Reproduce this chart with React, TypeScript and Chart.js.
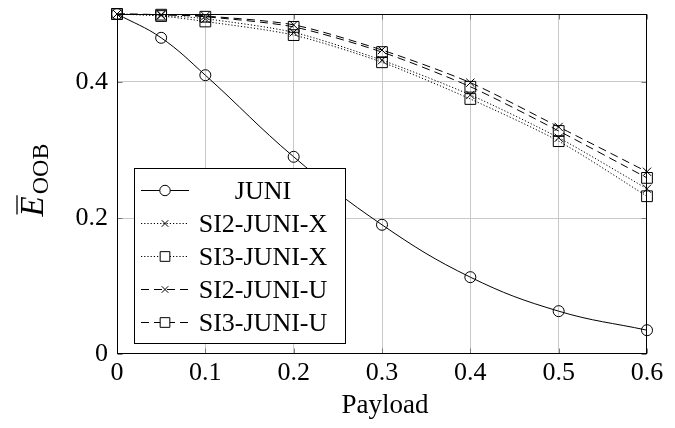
import React, { useEffect, useRef } from 'react';
import { Chart, registerables } from 'chart.js';

Chart.register(...registerables);

// ---------- data ----------
const payload = [0, 0.05, 0.1, 0.2, 0.3, 0.4, 0.5, 0.6];
const juni = [0.5, 0.465, 0.41, 0.29, 0.19, 0.113, 0.063, 0.035];
const si2JuniX = [0.5, 0.498, 0.493, 0.473, 0.432, 0.381, 0.318, 0.243];
const si3JuniX = [0.5, 0.497, 0.489, 0.469, 0.429, 0.375, 0.313, 0.232];
const si2JuniU = [0.5, 0.499, 0.497, 0.484, 0.447, 0.399, 0.334, 0.268];
const si3JuniU = [0.5, 0.499, 0.496, 0.481, 0.444, 0.393, 0.328, 0.259];

const seriesNames = ['JUNI', 'SI2-JUNI-X', 'SI3-JUNI-X', 'SI2-JUNI-U', 'SI3-JUNI-U'];
const xTickValues = [0, 0.1, 0.2, 0.3, 0.4, 0.5, 0.6];
const xTickLabels = ['0', '0.1', '0.2', '0.3', '0.4', '0.5', '0.6'];
const yTickValues = [0, 0.2, 0.4];
const yTickLabels = ['0', '0.2', '0.4'];
const xTitle = 'Payload';
const yTitleMain = 'E';
const yTitleSub = 'OOB';

const FONT = '"Liberation Serif", "Times New Roman", serif';

type Style = { point: string; radius: number; dash: number[] };
const styles: Style[] = [
  { point: 'circle', radius: 5.5, dash: [] },
  { point: 'crossRot', radius: 5.8, dash: [1.2, 2] },
  { point: 'rect', radius: 7.6, dash: [1.2, 2] },
  { point: 'crossRot', radius: 5.8, dash: [8, 5] },
  { point: 'rect', radius: 7.6, dash: [8, 5] },
];
const seriesValues = [juni, si2JuniX, si3JuniX, si2JuniU, si3JuniU];

function drawMarker(ctx: CanvasRenderingContext2D, kind: string, x: number, y: number, r: number) {
  ctx.beginPath();
  if (kind === 'circle') {
    ctx.arc(x, y, r, 0, Math.PI * 2);
  } else if (kind === 'rect') {
    const s = r * Math.SQRT1_2;
    ctx.rect(x - s, y - s, 2 * s, 2 * s);
  } else {
    const s = r * Math.SQRT1_2;
    ctx.moveTo(x - s, y - s);
    ctx.lineTo(x + s, y + s);
    ctx.moveTo(x - s, y + s);
    ctx.lineTo(x + s, y - s);
  }
  ctx.stroke();
}

const overlay = {
  id: 'overlay',
  afterDatasetsDraw(chart: any) {
    const { ctx, chartArea: a, scales } = chart;
    ctx.save();
    const L = Math.round(a.left) + 0.5;
    const R = Math.round(a.right) - 0.5;
    const T = Math.round(a.top) + 0.5;
    const B = Math.round(a.bottom) - 0.5;

    // tick marks (inward, both sides)
    ctx.strokeStyle = '#7a7a7a';
    ctx.lineWidth = 1;
    ctx.setLineDash([]);
    for (const v of xTickValues) {
      const px = Math.round(scales.x.getPixelForValue(v)) + 0.5;
      ctx.beginPath();
      ctx.moveTo(px, B); ctx.lineTo(px, B - 5);
      ctx.moveTo(px, T); ctx.lineTo(px, T + 5);
      ctx.stroke();
    }
    for (const v of yTickValues) {
      const py = Math.round(scales.y.getPixelForValue(v)) + 0.5;
      ctx.beginPath();
      ctx.moveTo(L, py); ctx.lineTo(L + 5, py);
      ctx.moveTo(R, py); ctx.lineTo(R - 5, py);
      ctx.stroke();
    }

    // frame
    ctx.strokeStyle = '#000';
    ctx.strokeRect(L, T, R - L, B - T);

    // legend
    const lx = 134.5, ly = 168.5, lw = 211, lh = 175;
    ctx.fillStyle = '#fff';
    ctx.fillRect(lx, ly, lw, lh);
    ctx.strokeStyle = '#000';
    ctx.lineWidth = 1;
    ctx.strokeRect(lx, ly, lw, lh);
    ctx.font = `26px ${FONT}`;
    ctx.textAlign = 'center';
    ctx.textBaseline = 'alphabetic';
    ctx.fillStyle = '#000';
    seriesNames.forEach((name, i) => {
      const cy = 190 + i * 33;
      const st = styles[i];
      ctx.setLineDash(st.dash);
      ctx.beginPath();
      ctx.moveTo(141, cy + 0.5);
      ctx.lineTo(189, cy + 0.5);
      ctx.stroke();
      ctx.setLineDash([]);
      ctx.save();
      ctx.fillStyle = '#fff';
      if (st.point !== 'crossRot') {
        ctx.beginPath();
        if (st.point === 'circle') ctx.arc(165, cy + 0.5, st.radius * 0.95, 0, Math.PI * 2);
        else {
          const s = st.radius * 0.9 * Math.SQRT1_2;
          ctx.rect(165 - s, cy + 0.5 - s, 2 * s, 2 * s);
        }
        ctx.fill();
      }
      ctx.restore();
      drawMarker(ctx, st.point, 165, cy + 0.5, st.point === 'circle' ? st.radius * 0.95 : st.point === 'rect' ? st.radius * 0.9 : st.radius * 0.8);
      ctx.fillText(name, 263, cy + 9);
    });

    ctx.restore();
  },
  afterDraw(chart: any) {
    const { ctx } = chart;
    ctx.save();
    ctx.fillStyle = '#000';
    // x title
    ctx.font = `27px ${FONT}`;
    ctx.textAlign = 'center';
    ctx.textBaseline = 'alphabetic';
    ctx.fillText(xTitle, 385, 413);
    // y title (rotated)
    ctx.translate(43, 180);
    ctx.rotate(-Math.PI / 2);
    ctx.font = `italic 33px ${FONT}`;
    const wE = ctx.measureText(yTitleMain).width;
    ctx.font = `24px ${FONT}`;
    const wS = ctx.measureText(yTitleSub).width;
    const total = wE + 2 + wS;
    const sx = -total / 2;
    ctx.textAlign = 'left';
    ctx.font = `italic 33px ${FONT}`;
    ctx.fillText(yTitleMain, sx, 0);
    ctx.strokeStyle = '#000';
    ctx.lineWidth = 1.3;
    ctx.beginPath();
    ctx.moveTo(sx + 2, -26);
    ctx.lineTo(sx + wE + 1, -26);
    ctx.stroke();
    ctx.font = `24px ${FONT}`;
    ctx.fillText(yTitleSub, sx + wE + 2, 5);
    ctx.restore();
  },
};

export default function App() {
  const ref = useRef<HTMLCanvasElement | null>(null);
  useEffect(() => {
    document.body.style.margin = '0';
    const canvas = ref.current;
    if (!canvas) return;
    const datasets = seriesNames.map((name, i) => ({
      label: name,
      data: payload.map((x, j) => ({ x, y: seriesValues[i][j] })),
      borderColor: '#000',
      backgroundColor: 'rgba(0,0,0,0)',
      borderWidth: 1,
      borderDash: styles[i].dash,
      pointStyle: styles[i].point,
      pointRadius: styles[i].radius,
      pointBorderWidth: 1,
      pointBorderColor: '#000',
      pointBackgroundColor: 'rgba(0,0,0,0)',
      tension: i === 0 ? 0.4 : 0.25,
      fill: false,
      clip: false as any,
    }));
    const chart = new Chart(canvas, {
      type: 'line',
      data: { datasets: datasets as any },
      options: {
        responsive: false,
        animation: false,
        devicePixelRatio: 1,
        layout: { padding: { left: 0, right: 28, top: 14, bottom: 0 } },
        plugins: { legend: { display: false }, tooltip: { enabled: false } },
        scales: {
          x: {
            type: 'linear',
            min: 0,
            max: 0.6,
            afterBuildTicks: (s: any) => { s.ticks = xTickValues.map((v) => ({ value: v })); },
            afterFit: (s: any) => { s.height = 74; s.paddingLeft = 0; s.paddingRight = 0; },
            ticks: {
              callback: (_v: any, idx: number) => xTickLabels[idx],
              color: '#000',
              font: { family: FONT, size: 26, lineHeight: 1 },
              padding: 6,
              maxRotation: 0,
              autoSkip: false,
            },
            grid: {
              color: (c: any) => (c.tick && (c.tick.value === 0 || c.tick.value === 0.6) ? 'rgba(0,0,0,0)' : '#c8c8c8'),
              drawTicks: false,
              lineWidth: 1,
            },
            border: { display: false },
          },
          y: {
            type: 'linear',
            min: 0,
            max: 0.5,
            afterBuildTicks: (s: any) => { s.ticks = yTickValues.map((v) => ({ value: v })); },
            afterFit: (s: any) => { s.width = 117; s.paddingTop = 0; s.paddingBottom = 0; },
            ticks: {
              callback: (_v: any, idx: number) => yTickLabels[idx],
              color: '#000',
              font: { family: FONT, size: 26, lineHeight: 1 },
              padding: 9,
              autoSkip: false,
            },
            grid: {
              color: (c: any) => (c.tick && c.tick.value === 0 ? 'rgba(0,0,0,0)' : '#c8c8c8'),
              drawTicks: false,
              lineWidth: 1,
            },
            border: { display: false },
          },
        },
      },
      plugins: [overlay],
    });
    return () => chart.destroy();
  }, []);
  return (
    <div style={{ width: 675, height: 428, background: '#fff' }}>
      <canvas ref={ref} width={675} height={428} style={{ display: 'block' }} />
    </div>
  );
}
